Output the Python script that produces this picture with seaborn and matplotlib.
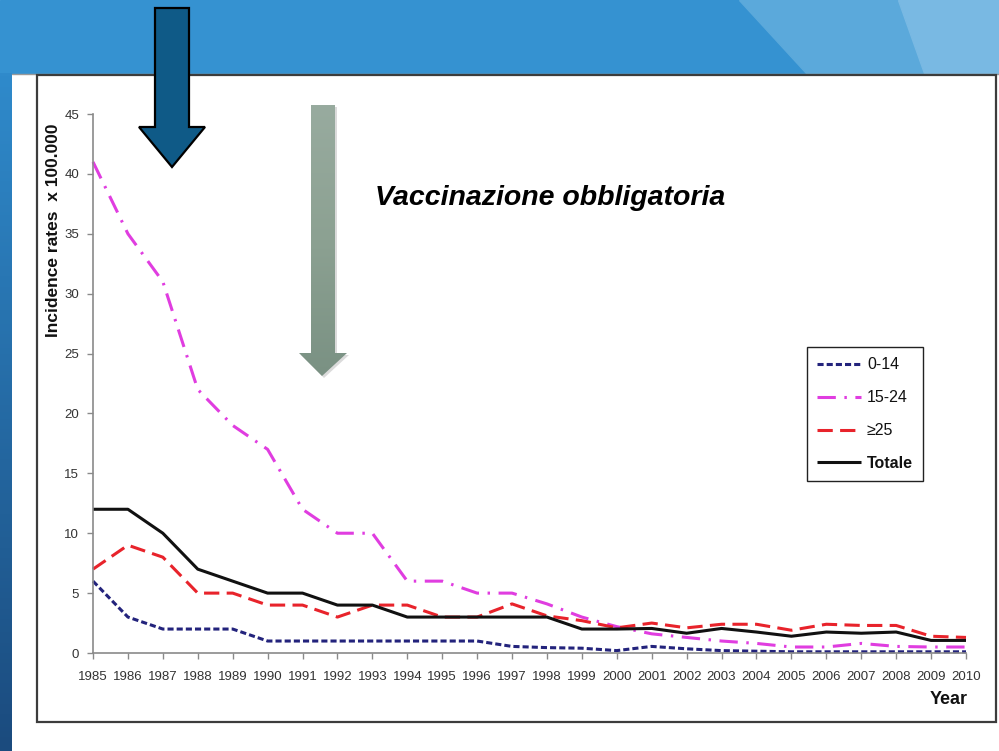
import numpy as np
import pandas as pd
import matplotlib
matplotlib.use("Agg")
import matplotlib.pyplot as plt
import seaborn as sns
from matplotlib.patches import Polygon, Rectangle
from matplotlib.colors import LinearSegmentedColormap

# ---------------- data ----------------
years = list(range(1985, 2011))
rate_0_14 = [6, 3, 2, 2, 2, 1, 1, 1, 1, 1, 1, 1, 0.55, 0.45, 0.4, 0.2, 0.55, 0.35, 0.2, 0.15,
             0.1, 0.1, 0.1, 0.1, 0.1, 0.1]
rate_15_24 = [41, 35, 31, 22, 19, 17, 12, 10, 10, 6, 6, 5, 5, 4.1, 3, 2.2, 1.6, 1.3, 1, 0.8,
              0.5, 0.5, 0.8, 0.55, 0.5, 0.5]
rate_25 = [7, 9, 8, 5, 5, 4, 4, 3, 4, 4, 3, 3, 4.1, 3.1, 2.7, 2.1, 2.5, 2.1, 2.4, 2.4,
           1.9, 2.4, 2.3, 2.3, 1.4, 1.3]
rate_tot = [12, 12, 10, 7, 6, 5, 5, 4, 4, 3, 3, 3, 3, 3, 2, 2, 2.05, 1.65, 2.05, 1.75,
            1.4, 1.75, 1.65, 1.75, 1.05, 1.05]
groups = ["0-14", "15-24", "≥25", "Totale"]
y_ticks = list(range(0, 50, 5))
y_label = "Incidence rates  x 100.000"
x_label = "Year"
annotation = "Vaccinazione obbligatoria"

colors = ["#23237c", "#e03de0", "#e8232b", "#111111"]
dash_patterns = [(2.0, 1.0), (6.0, 2.8, 0.8, 2.8), (5.0, 2.4), ""]

df = pd.DataFrame({
    "Year": years * 4,
    "Rate": rate_0_14 + rate_15_24 + rate_25 + rate_tot,
    "Group": sum([[g] * len(years) for g in groups], []),
})

# ---------------- style ----------------
sns.set_style("ticks")
plt.rcParams["font.family"] = ["Liberation Sans", "DejaVu Sans"]

W, H = 999, 751
fig = plt.figure(figsize=(W / 100, H / 100), dpi=100)
fig.patch.set_facecolor("white")

# background (slide) axes in pixel coordinates
bg = fig.add_axes([0, 0, 1, 1], zorder=0)
bg.set_xlim(0, W)
bg.set_ylim(H, 0)
bg.axis("off")
bg.add_patch(Rectangle((0, 0), W, 73, color="#3592d1", zorder=1))
bg.add_patch(Polygon([(739, 0), (W, 0), (W, 73), (806, 73)], closed=True,
                     color="#5ba9db", zorder=2))
bg.add_patch(Polygon([(898, 0), (W, 0), (W, 73), (924, 73)], closed=True,
                     color="#79b9e3", zorder=3))
strip_cmap = LinearSegmentedColormap.from_list("strip", ["#2f8acb", "#1b4b7e"])
bg.imshow(np.linspace(0, 1, 200).reshape(-1, 1), cmap=strip_cmap, aspect="auto",
          extent=[0, 12, H, 73], zorder=2)
bg.plot([12, W], [73.5, 73.5], color="#9a9a9a", lw=1.0, zorder=4)
bg.add_patch(Rectangle((37, 75), 959, 647, fill=False, edgecolor="#3c3c3c",
                       lw=1.6, zorder=5))
bg.set_xlim(0, W)
bg.set_ylim(H, 0)

# ---------------- main chart ----------------
ax = fig.add_axes([93 / W, (H - 653) / H, 873 / W, 539 / H], zorder=1)
ax.patch.set_alpha(0)
sns.lineplot(data=df, x="Year", y="Rate", hue="Group", style="Group",
             hue_order=groups, style_order=groups,
             palette=dict(zip(groups, colors)),
             dashes=dict(zip(groups, dash_patterns)),
             linewidth=2.2, ax=ax, legend=False)
for ln in ax.lines:
    ln.set_clip_on(False)
    ln.set_solid_capstyle("butt")
    ln.set_dash_capstyle("butt")

ax.set_xlim(years[0], years[-1])
ax.set_ylim(0, 45)
ax.set_xticks(years)
ax.set_xticklabels([str(y) for y in years])
ax.set_yticks(y_ticks)
ax.set_yticklabels([str(v) for v in y_ticks])
for s in ["top", "right"]:
    ax.spines[s].set_visible(False)
for s in ["left", "bottom"]:
    ax.spines[s].set_color("#8a8a8a")
    ax.spines[s].set_linewidth(1.2)
ax.tick_params(axis="both", direction="out", length=4, width=1.0, color="#8a8a8a",
               labelsize=9.5, labelcolor="#333333", pad=6)
ax.tick_params(axis="x", pad=9)
ax.set_xlabel("")
ax.set_ylabel(y_label, fontsize=12.5, fontweight="bold", color="#111111")
ax.yaxis.set_label_coords(-0.037, 0.785)
ax.text(1.002, -0.087, x_label, transform=ax.transAxes, ha="right", va="center",
        fontsize=13, fontweight="bold", color="#111111")

leg = ax.legend(handles=ax.lines[:4], labels=groups, loc="upper left",
                bbox_to_anchor=(807 / W, 1 - 347 / H), bbox_transform=fig.transFigure,
                borderaxespad=0, frameon=True, fancybox=False, framealpha=1,
                edgecolor="#222222", handlelength=2.7, handletextpad=0.4,
                borderpad=0.65, labelspacing=1.12,
                prop={"size": 11.5})
leg.get_frame().set_linewidth(1.0)
for t in leg.get_texts():
    t.set_color("#111111")
    if t.get_text() == "Totale":
        t.set_fontweight("bold")

# ---------------- overlay: arrows and annotation ----------------
ov = fig.add_axes([0, 0, 1, 1], zorder=3)
ov.set_xlim(0, W)
ov.set_ylim(H, 0)
ov.axis("off")
ov.patch.set_alpha(0)

dark_arrow = [(155, 8), (189, 8), (189, 127), (205, 127), (172, 167), (139, 127), (155, 127)]
ov.add_patch(Polygon(dark_arrow, closed=True, facecolor="#0f5a87", edgecolor="black",
                     lw=1.6, zorder=5))

gray_arrow = [(311, 105), (335, 105), (335, 353), (347, 353), (322, 376), (299, 353), (311, 353)]
shadow = [(x + 2, y + 2) for x, y in gray_arrow]
ov.add_patch(Polygon(shadow, closed=True, facecolor="#b0b0b0", edgecolor="none",
                     alpha=0.45, zorder=4))
gp = Polygon(gray_arrow, closed=True, facecolor="none", edgecolor="none", zorder=5)
ov.add_patch(gp)
gcmap = LinearSegmentedColormap.from_list("garrow", ["#98ab9f", "#8ca192", "#7a9183"])
im = ov.imshow(np.linspace(0, 1, 200).reshape(-1, 1), cmap=gcmap, aspect="auto",
               extent=[299, 347, 376, 105], zorder=5)
im.set_clip_path(gp)
ov.set_xlim(0, W)
ov.set_ylim(H, 0)

ov.text(375, 198, annotation, ha="left", va="center", fontsize=20.5, fontweight="bold",
        fontstyle="italic", color="black", zorder=6)

fig.savefig("out.png", dpi=100)
